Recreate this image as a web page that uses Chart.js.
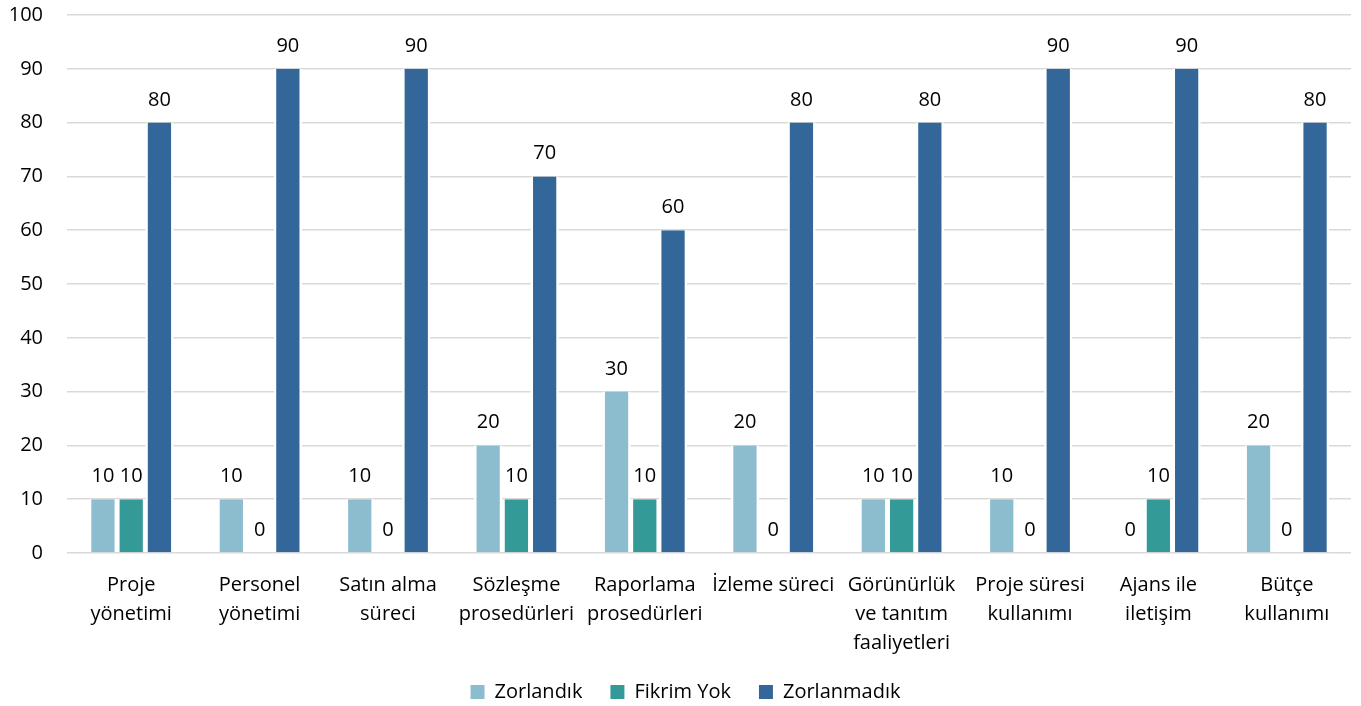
<!DOCTYPE html>
<html>
<head>
<meta charset="utf-8">
<script src="https://cdn.jsdelivr.net/npm/chart.js@4"></script>
<style>
html,body{margin:0;padding:0;background:#fff;}
#wrap{width:1361px;height:706px;position:relative;}
</style>
</head>
<body>
<div id="wrap"><canvas id="c"></canvas></div>
<script>
const categories = [
  ["Proje","yönetimi"],
  ["Personel","yönetimi"],
  ["Satın alma","süreci"],
  ["Sözleşme","prosedürleri"],
  ["Raporlama","prosedürleri"],
  ["İzleme süreci"],
  ["Görünürlük","ve tanıtım","faaliyetleri"],
  ["Proje süresi","kullanımı"],
  ["Ajans ile","iletişim"],
  ["Bütçe","kullanımı"]
];
const seriesNames = ["Zorlandık","Fikrim Yok","Zorlanmadık"];
const zorlandik   = [10,10,10,20,30,20,10,10,0,20];
const fikrimYok   = [10,0,0,10,10,0,10,0,10,0];
const zorlanmadik = [80,90,90,70,60,80,80,90,90,80];
const yTicks = [0,10,20,30,40,50,60,70,80,90,100];

const FONT = "'Open Sans', sans-serif";
const FS = 20;
const colors = ["#8BBDCF","#349A97","#336799"];

const labelPlugin = {
  id:'valueLabels',
  afterLayout(chart){
    if (chart.legend){ chart.legend.left += 10; chart.legend.right += 10; }
  },
  afterDatasetsDraw(chart){
    const ctx = chart.ctx;
    ctx.save();
    ctx.font = FS + "px " + FONT;
    ctx.fillStyle = "#000";
    ctx.textAlign = "center";
    ctx.textBaseline = "alphabetic";
    chart.data.datasets.forEach((ds,i)=>{
      const meta = chart.getDatasetMeta(i);
      meta.data.forEach((bar,j)=>{
        ctx.fillText(String(ds.data[j]), bar.x, bar.y - 17);
      });
    });
    ctx.restore();
  }
};

new Chart(document.getElementById('c'),{
  type:'bar',
  data:{
    labels:categories,
    datasets:[
      {label:seriesNames[0],data:zorlandik,backgroundColor:colors[0]},
      {label:seriesNames[1],data:fikrimYok,backgroundColor:colors[1]},
      {label:seriesNames[2],data:zorlanmadik,backgroundColor:colors[2]}
    ].map(d=>Object.assign(d,{borderColor:"#ffffff",borderWidth:{left:2.5,right:2.5,top:0,bottom:0},borderSkipped:false,barPercentage:1,categoryPercentage:0.66}))
  },
  options:{
    responsive:true,
    maintainAspectRatio:false,
    animation:false,
    layout:{padding:{left:0,right:10,top:0,bottom:-6}},
    plugins:{
      legend:{
        position:'bottom',
        labels:{font:{family:FONT,size:FS},color:"#000",boxWidth:14,boxHeight:14,padding:28,
          generateLabels(chart){
            return chart.data.datasets.map((d,i)=>({text:d.label,fillStyle:d.backgroundColor,strokeStyle:d.backgroundColor,lineWidth:0,datasetIndex:i,hidden:false}));
          }}
      },
      tooltip:{enabled:false}
    },
    scales:{
      x:{
        grid:{display:false},
        border:{display:false},
        afterFit(axis){axis.height = 101;},
        ticks:{font:{family:FONT,size:FS,lineHeight:1.45},color:"#000",maxRotation:0,autoSkip:false,padding:10}
      },
      y:{
        min:0,max:100,
        afterBuildTicks(axis){axis.ticks = yTicks.map(v=>({value:v}));},
        afterFit(axis){axis.paddingTop = 15; axis.paddingBottom = 0; axis.width = 67;},
        grid:{color:"#d9d9d9",lineWidth:1.5,drawTicks:false},
        border:{display:false},
        ticks:{font:{family:FONT,size:FS},color:"#000",padding:24}
      }
    }
  },
  plugins:[labelPlugin]
});
</script>
</body>
</html>
